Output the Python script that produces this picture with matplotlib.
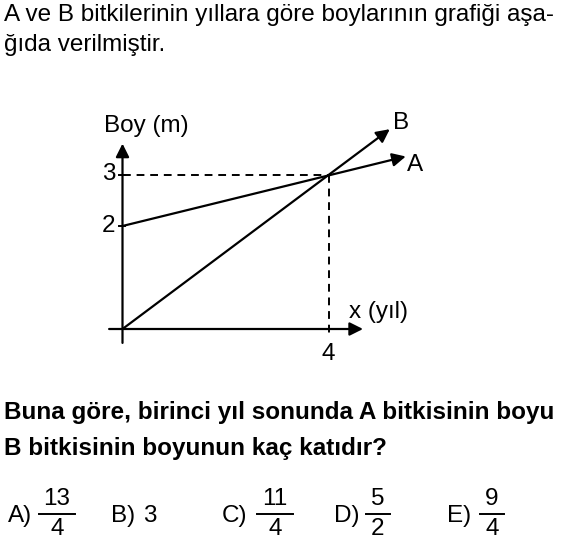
import matplotlib.pyplot as plt
from matplotlib.lines import Line2D

plt.rcParams['font.family'] = ['Liberation Sans', 'DejaVu Sans']

# chart values
cross_x = 4          # year where the two heights meet
cross_y = 3          # height at the meeting point (m)
a_start = 2          # height of A at year 0
b_start = 0          # height of B at year 0
a_end = (5.5, 3.35)  # arrow tip of A
b_end = (5.19, 3.88) # arrow tip of B
y_ticks = [2, 3]
x_ticks = [4]

question_top = ["A ve B bitkilerinin yıllara göre boylarının grafiği aşa-",
                "ğıda verilmiştir."]
question_bold = ["Buna göre, birinci yıl sonunda A bitkisinin boyu",
                 "B bitkisinin boyunun kaç katıdır?"]
choice_labels = ["A)", "B)", "C)", "D)", "E)"]
choice_nums = ["13", "3", "11", "5", "9"]
choice_dens = ["4", None, "4", "2", "4"]

W, H = 564, 542
fig = plt.figure(figsize=(W / 100, H / 100), dpi=100)

# axes placed so that data (0,0) sits at pixel (122.5,329), 51.5 px per unit
s = 51.5
x0, y0 = 122.5, 329
xl, yl = (-0.5, 6.0), (-0.5, 4.5)
left = x0 + xl[0] * s
ax = fig.add_axes([left / W, (H - (y0 - yl[0] * s)) / H,
                   (xl[1] - xl[0]) * s / W, (yl[1] - yl[0]) * s / H])
ax.set_xlim(*xl)
ax.set_ylim(*yl)
ax.axis('off')

arrow = dict(arrowstyle='-|>', color='black', lw=1.6, mutation_scale=20,
             shrinkA=0, shrinkB=0)

# coordinate axes
ax.annotate('', xy=(0, 3.6), xytext=(0, -0.27), arrowprops=arrow)
ax.annotate('', xy=(4.67, 0), xytext=(-0.26, 0), arrowprops=arrow)

# dashed guides
ax.plot([0, cross_x], [cross_y, cross_y], color='black', lw=1.4, ls=(0, (4, 3)))
ax.plot([cross_x, cross_x], [cross_y, -0.15], color='black', lw=1.4, ls=(0, (4, 3)))

# tick marks
for t in y_ticks:
    ax.plot([-0.07, 0.05], [t, t], color='black', lw=1.4)

# lines A and B
ax.annotate('', xy=a_end, xytext=(0, a_start), arrowprops=arrow)
ax.annotate('', xy=b_end, xytext=(0, b_start), arrowprops=arrow)

fs = 17.5
for t in y_ticks:
    ax.text(-0.14, t, str(t), ha='right', va='center', fontsize=fs)
for t in x_ticks:
    ax.text(t, -0.27, str(t), ha='center', va='top', fontsize=fs)
ax.text(-0.35, 3.95, "Boy (m)", ha='left', va='center', fontsize=fs)
ax.text(4.4, 0.33, "x (yıl)", ha='left', va='center', fontsize=fs)
ax.text(5.4, 4.0, "B", ha='center', va='center', fontsize=fs)
ax.text(5.68, 3.18, "A", ha='center', va='center', fontsize=fs)

# question text
for i, line in enumerate(question_top):
    fig.text(4 / W, 1 - (15 + 30 * i) / H, line, ha='left', va='center', fontsize=fs)
for i, line in enumerate(question_bold):
    fig.text(4 / W, 1 - (413 + 35 * i) / H, line, ha='left', va='center',
             fontsize=fs, fontweight='bold')

# choices
label_x = [8, 111, 222, 334, 447]
frac_x = [57, 143, 275, 378, 492]
frac_w = [36, 0, 36, 24, 24]
for lab, lx, fx, fw, n, d in zip(choice_labels, label_x, frac_x, frac_w,
                                 choice_nums, choice_dens):
    fig.text(lx / W, 1 - 516 / H, lab, ha='left', va='center', fontsize=fs)
    if d is None:
        fig.text(fx / W, 1 - 516 / H, n, ha='left', va='center', fontsize=fs)
    else:
        fig.text(fx / W, 1 - 499 / H, n, ha='center', va='center', fontsize=fs)
        fig.text(fx / W, 1 - 529 / H, d, ha='center', va='center', fontsize=fs)
        fig.add_artist(Line2D([(fx - fw / 2) / W, (fx + fw / 2) / W],
                              [1 - 514 / H, 1 - 514 / H], color='black', lw=1.4))

fig.savefig('out.png', dpi=100)
